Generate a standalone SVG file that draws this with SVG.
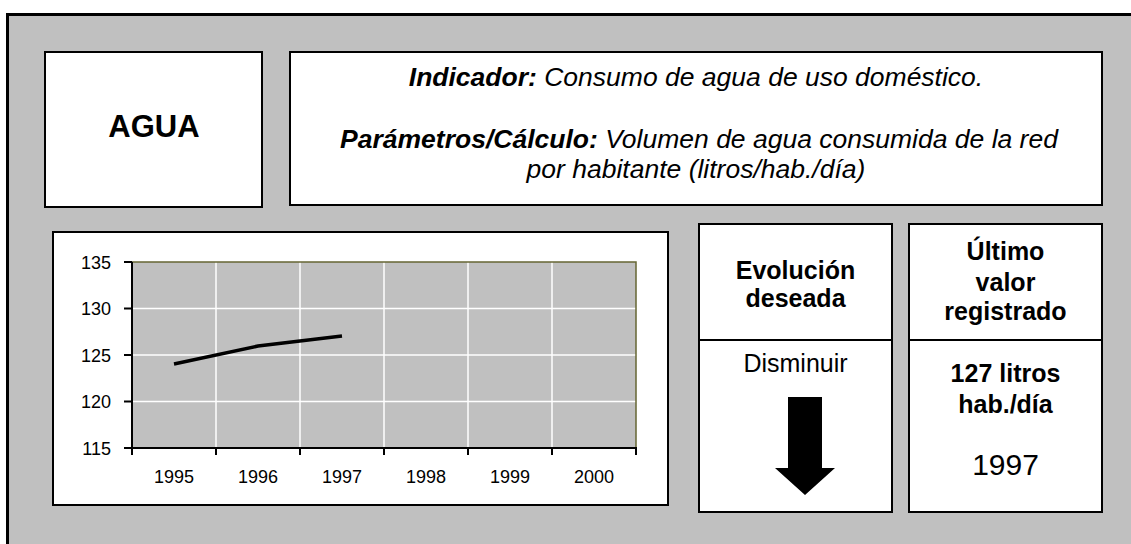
<svg xmlns="http://www.w3.org/2000/svg" width="1131" height="544" viewBox="0 0 1131 544">
<style>
.box{fill:#fff;stroke:#000;stroke-width:2}
.t{font-family:"Liberation Sans",Arial,sans-serif;fill:#000}
.b{font-weight:bold}
.i{font-style:italic}
.c{text-anchor:middle}
.grid{stroke:#fff;stroke-width:1.5}
.tk{font-family:"Liberation Sans",Arial,sans-serif;font-size:18px;fill:#000}
</style>
<rect x="0" y="0" width="1131" height="544" fill="#fff"/>
<rect id="frame" x="7.5" y="14.5" width="1200" height="600" fill="#c0c0c0" stroke="#000" stroke-width="3"/>

<g id="agua">
<rect class="box" x="45" y="52" width="217" height="155"/>
<text class="t b c" x="154" y="137" font-size="31">AGUA</text>
</g>

<g id="indicador">
<rect class="box" x="290" y="52" width="812" height="153"/>
<text class="t i c" x="696" y="86" font-size="26.5"><tspan class="b">Indicador:</tspan> Consumo de agua de uso doméstico.</text>
<text class="t i c" x="699" y="148" font-size="26.5"><tspan class="b">Parámetros/Cálculo:</tspan> Volumen de agua consumida de la red</text>
<text class="t i c" x="696" y="178" font-size="26.5">por habitante (litros/hab./día)</text>
</g>

<g id="chart">
<rect class="box" x="53" y="232" width="615" height="273"/>
<rect x="132" y="262" width="504" height="186" fill="#c0c0c0" stroke="none"/>
<g class="grid">
<line x1="132" y1="308.5" x2="636" y2="308.5"/>
<line x1="132" y1="355" x2="636" y2="355"/>
<line x1="132" y1="401.5" x2="636" y2="401.5"/>
<line x1="216" y1="262" x2="216" y2="448"/>
<line x1="300" y1="262" x2="300" y2="448"/>
<line x1="384" y1="262" x2="384" y2="448"/>
<line x1="468" y1="262" x2="468" y2="448"/>
<line x1="552" y1="262" x2="552" y2="448"/>
</g>
<polyline points="132,262 636,262 636,448" fill="none" stroke="#666633" stroke-width="1.5"/>
<g stroke="#000" stroke-width="2">
<line x1="132" y1="262" x2="132" y2="449"/>
<line x1="131" y1="448" x2="637" y2="448"/>
<line x1="124" y1="262" x2="132" y2="262"/>
<line x1="124" y1="308.5" x2="132" y2="308.5"/>
<line x1="124" y1="355" x2="132" y2="355"/>
<line x1="124" y1="401.5" x2="132" y2="401.5"/>
<line x1="124" y1="448" x2="132" y2="448"/>
<line x1="132" y1="448" x2="132" y2="455"/>
<line x1="216" y1="448" x2="216" y2="455"/>
<line x1="300" y1="448" x2="300" y2="455"/>
<line x1="384" y1="448" x2="384" y2="455"/>
<line x1="468" y1="448" x2="468" y2="455"/>
<line x1="552" y1="448" x2="552" y2="455"/>
<line x1="636" y1="448" x2="636" y2="455"/>
</g>
<polyline points="174,364 258,346 342,336" fill="none" stroke="#000" stroke-width="3.5"/>
<g class="tk" text-anchor="end">
<text x="111" y="268.5">135</text>
<text x="111" y="315">130</text>
<text x="111" y="361.5">125</text>
<text x="111" y="408">120</text>
<text x="111" y="454.5">115</text>
</g>
<g class="tk" text-anchor="middle">
<text x="174" y="483">1995</text>
<text x="258" y="483">1996</text>
<text x="342" y="483">1997</text>
<text x="426" y="483">1998</text>
<text x="510" y="483">1999</text>
<text x="594" y="483">2000</text>
</g>
</g>

<g id="evolucion">
<rect class="box" x="699" y="224" width="193" height="288"/>
<line x1="699" y1="340" x2="892" y2="340" stroke="#000" stroke-width="2"/>
<text class="t b c" x="795.5" y="279" font-size="25">Evolución</text>
<text class="t b c" x="795.5" y="307" font-size="25">deseada</text>
<text class="t c" x="795.5" y="371.5" font-size="25">Disminuir</text>
<polygon points="788,397 822,397 822,468 835,468 805,495 775,468 788,468" fill="#000"/>
</g>

<g id="ultimo">
<rect class="box" x="909" y="224" width="193" height="288"/>
<line x1="909" y1="340" x2="1102" y2="340" stroke="#000" stroke-width="2"/>
<text class="t b c" x="1005.5" y="260" font-size="25">Último</text>
<text class="t b c" x="1005.5" y="290.5" font-size="25">valor</text>
<text class="t b c" x="1005.5" y="320" font-size="25">registrado</text>
<text class="t b c" x="1005.5" y="381.5" font-size="25">127 litros</text>
<text class="t b c" x="1005.5" y="412.5" font-size="25">hab./día</text>
<text class="t c" x="1005.5" y="475" font-size="30">1997</text>
</g>
</svg>
